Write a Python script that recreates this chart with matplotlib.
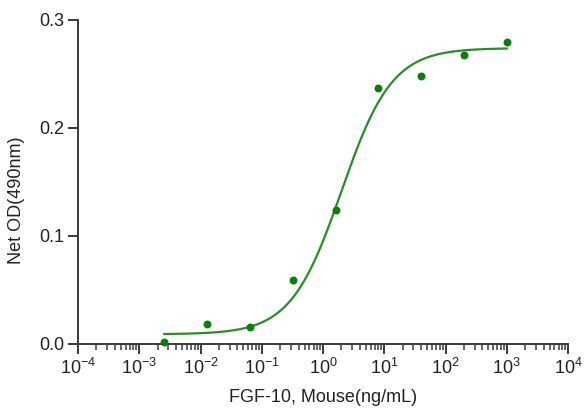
import matplotlib
matplotlib.use("Agg")
import matplotlib.pyplot as plt
import numpy as np

plt.rcParams['font.family'] = ['Liberation Sans', 'DejaVu Sans']
plt.rcParams['mathtext.fontset'] = 'custom'
plt.rcParams['mathtext.rm'] = 'Liberation Sans'
plt.rcParams['mathtext.it'] = 'Liberation Sans'
plt.rcParams['mathtext.default'] = 'regular'

# measured points (5-fold dilution series)
conc = [0.00256, 0.0128, 0.064, 0.32, 1.6, 8, 40, 200, 1000]
od = [0.0015, 0.0186, 0.016, 0.0588, 0.124, 0.237, 0.248, 0.268, 0.280]

# 4PL fit parameters
fit_bottom = 0.009
fit_top = 0.274
fit_ec50 = 2.0
fit_hill = 1.05

green_pt = '#0a7d0a'
green_ln = '#2a8c2a'
axis_col = '#3a3a3a'

fig = plt.figure(figsize=(5.87, 4.12), dpi=100)
ax = fig.add_axes([78 / 587, 1 - 344 / 412, (568 - 78) / 587, (344 - 20) / 412])

xs = np.logspace(np.log10(conc[0]), np.log10(conc[-1]), 300)
ys = fit_bottom + (fit_top - fit_bottom) / (1 + (fit_ec50 / xs) ** fit_hill)
ax.plot(xs, ys, color=green_ln, lw=1.6, zorder=2)
ax.scatter(conc, od, s=22, color=green_pt, zorder=3, clip_on=False)

ax.set_xscale('log')
ax.set_xlim(1e-4, 1e4)
ax.set_ylim(0, 0.3)
ax.set_xticks([10.0 ** k for k in range(-4, 5)])
ax.set_xticklabels(['10$^{%d}$' % k for k in range(-4, 5)])
ax.xaxis.set_minor_locator(matplotlib.ticker.LogLocator(base=10, subs=np.arange(2, 10), numticks=20))
ax.xaxis.set_minor_formatter(matplotlib.ticker.NullFormatter())
ax.set_yticks([0.0, 0.1, 0.2, 0.3])
ax.set_yticklabels(['0.0', '0.1', '0.2', '0.3'])

for s in ['top', 'right']:
    ax.spines[s].set_visible(False)
for s in ['left', 'bottom']:
    ax.spines[s].set_color(axis_col)
    ax.spines[s].set_linewidth(1.4)

ax.tick_params(axis='both', which='major', length=7, width=1.4, color=axis_col,
               labelsize=13, labelcolor='#222222', pad=3)
ax.tick_params(axis='x', which='minor', length=4, width=1.1, color=axis_col)

ax.set_xlabel('FGF-10, Mouse(ng/mL)', fontsize=13, color='#222222', labelpad=8)
ax.set_ylabel('Net OD(490nm)', fontsize=13, color='#222222')
ax.yaxis.set_label_coords(-0.108, 0.445)

fig.savefig('out.png', dpi=100)
